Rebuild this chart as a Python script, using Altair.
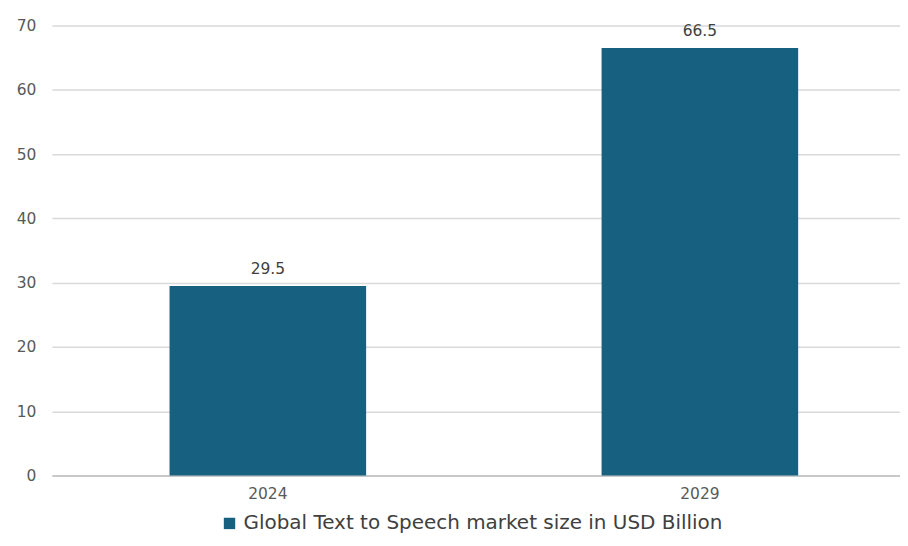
import altair as alt
import pandas as pd

years = ["2024", "2029"]
values = [29.5, 66.5]
series = ["Global Text to Speech market size in USD Billion"] * 2

df = pd.DataFrame({"year": years, "value": values, "series": series})
FONT = "DejaVu Sans"

base = alt.Chart(df)

bars = base.mark_bar(color="#17607f").encode(
    x=alt.X("year:N", title=None,
            scale=alt.Scale(paddingInner=0.545, paddingOuter=0.254, align=0.536),
            axis=alt.Axis(labelAngle=0, labelFontSize=15.5, labelColor="#595959",
                          labelFont=FONT, ticks=False, domainColor="#bfbfbf",
                          domainWidth=1.5, labelPadding=11)),
    y=alt.Y("value:Q", title=None,
            scale=alt.Scale(domain=[0, 70]),
            axis=alt.Axis(values=[0, 10, 20, 30, 40, 50, 60, 70], labelFontSize=15.5,
                          labelColor="#595959", labelFont=FONT, ticks=False,
                          domain=False, gridColor="#d9d9d9", gridWidth=1.5,
                          labelPadding=16)),
    color=alt.Color("series:N", title=None,
                    scale=alt.Scale(range=["#17607f"]),
                    legend=alt.Legend(orient="none", legendX=168, legendY=489,
                                      symbolType="square", symbolSize=130,
                                      symbolStrokeWidth=0,
                                      labelFontSize=20, labelFont=FONT,
                                      labelColor="#404040", labelLimit=700)),
)

labels = base.mark_text(dy=-17, fontSize=15.5, font=FONT, color="#404040").encode(
    x="year:N",
    y="value:Q",
    text=alt.Text("value:Q", format=".1f"),
)

chart = (bars + labels).properties(
    width=850, height=451,
    autosize=alt.AutoSizeParams(type="none"),
    padding={"left": 44, "top": 17, "right": 0, "bottom": 60},
).configure_view(stroke=None)

chart.save("out.html", embed_options={"renderer": "svg", "actions": False})
